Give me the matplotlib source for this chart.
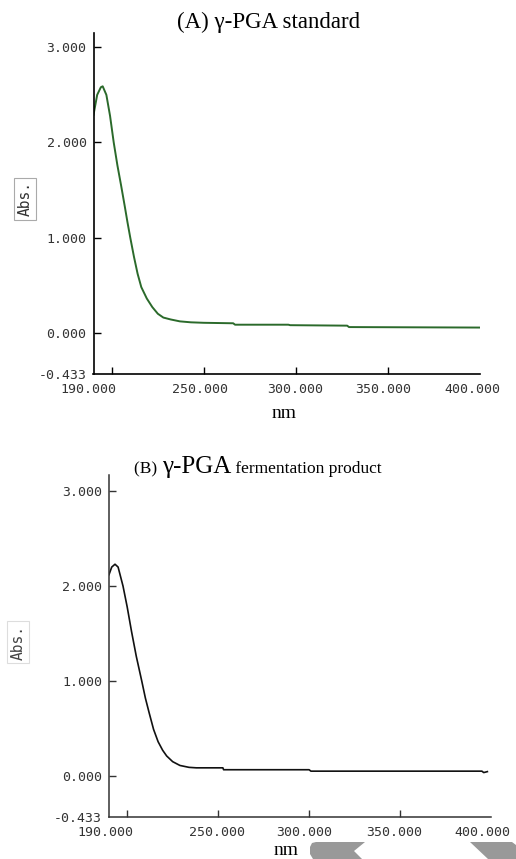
import matplotlib
matplotlib.use("Agg")
import matplotlib.pyplot as plt
from matplotlib.patches import Polygon
from matplotlib.transforms import ScaledTranslation

# ---------------- data ----------------
nm_a = [190, 192, 194, 195, 197, 199, 201, 203, 205, 207, 208.5, 210, 212, 214, 216,
        219, 222, 225, 228, 232, 237, 243, 250, 266, 267, 296, 297, 328, 329, 400]
abs_a = [2.29, 2.50, 2.58, 2.59, 2.50, 2.28, 2.00, 1.76, 1.55, 1.33, 1.16, 1.00, 0.80,
         0.62, 0.48, 0.36, 0.27, 0.20, 0.16, 0.14, 0.12, 0.11, 0.105, 0.10, 0.085,
         0.085, 0.08, 0.075, 0.06, 0.055]

nm_b = [190, 191.5, 193.3, 195, 197.7, 200, 202.4, 205, 208, 210, 212, 214.5,
        217, 219.5, 221.7, 225, 229, 234, 238, 252.6, 253, 300, 301, 395, 396, 398]
abs_b = [2.12, 2.20, 2.23, 2.20, 2.00, 1.78, 1.52, 1.26, 1.00, 0.82, 0.67, 0.49,
         0.36, 0.27, 0.21, 0.15, 0.11, 0.09, 0.085, 0.085, 0.065, 0.065, 0.05,
         0.05, 0.035, 0.045]

ytick_vals = [-0.433, 0.0, 1.0, 2.0, 3.0]
ytick_labels = ["-0.433", "0.000", "1.000", "2.000", "3.000"]
xtick_vals = [190, 200, 250, 300, 350, 400]
xtick_labels = ["190.000", "", "250.000", "300.000", "350.000", "400.000"]

title_a = "(A) γ-PGA standard"
title_b_parts = ["(B) ", "γ-PGA", " fermentation product"]
xlabel = "nm"
ylabel = "Abs."

# ---------------- figure ----------------
W, H = 516, 859
fig = plt.figure(figsize=(W / 100, H / 100), dpi=100)
fig.patch.set_facecolor("white")

mono = ["DejaVu Sans Mono"]
serif = ["Liberation Serif", "DejaVu Serif"]


def fx(x):
    return x / W


def fy(y):
    return 1 - y / H


def make_axes(left, right, top, bottom, ytop, color, lw_spine, shifts):
    ax = fig.add_axes([fx(left), fy(bottom), fx(right) - fx(left), fy(top) - fy(bottom)])
    ax.set_xlim(190, 400)
    ax.set_ylim(-0.433, ytop)
    for s in ["top", "right"]:
        ax.spines[s].set_visible(False)
    for s in ["left", "bottom"]:
        ax.spines[s].set_color(color)
        ax.spines[s].set_linewidth(lw_spine)
    ax.set_yticks(ytick_vals)
    ax.set_yticklabels(ytick_labels, fontfamily=mono, fontsize=9.5, color="#333333")
    ax.set_xticks(xtick_vals)
    ax.set_xticklabels(xtick_labels, fontfamily=mono, fontsize=9.5, color="#333333")
    ax.tick_params(axis="y", direction="in", length=5, width=1.0, color=color, pad=5)
    ax.tick_params(axis="x", direction="in", length=5, width=1.0, color=color, pad=6.5)
    for i, t in enumerate(ax.xaxis.get_major_ticks()):
        if xtick_vals[i] in (190, 400):
            t.tick1line.set_visible(False)
    ax.yaxis.get_major_ticks()[0].tick1line.set_visible(False)
    for lab, dx in zip(ax.get_xticklabels(), shifts):
        lab.set_transform(lab.get_transform() + ScaledTranslation(dx / 100, 0, fig.dpi_scale_trans))
    ax.patch.set_alpha(0)
    return ax


# Panel A
axA = make_axes(93.5, 479.5, 33, 374, 3.15, "black", 1.2, [-5, 0, -4, -1, -4, -7])
axA.plot(nm_a, abs_a, color="#2b6a2b", lw=1.4, solid_joinstyle="round")

# Panel B
axB = make_axes(109, 491, 475, 817, 3.17, "#333333", 1.1, [-4, 0, -1, -5, -6, -9])
axB.plot(nm_b, abs_b, color="#111111", lw=1.2, solid_joinstyle="round")

# y labels in boxes
fig.text(fx(25), fy(199), ylabel, rotation=90, ha="center", va="center",
         fontfamily=mono, fontsize=10.5, color="#333333",
         bbox=dict(boxstyle="square,pad=0.25", fc="white", ec="#aaaaaa", lw=0.8))
fig.text(fx(18), fy(642), ylabel, rotation=90, ha="center", va="center",
         fontfamily=mono, fontsize=10.5, color="#444444",
         bbox=dict(boxstyle="square,pad=0.25", fc="white", ec="#dddddd", lw=0.8))

# x labels
fig.text(fx(284), fy(418), xlabel, ha="center", va="baseline",
         fontfamily=serif, fontsize=14, color="black")
fig.text(fx(286), fy(855), xlabel, ha="center", va="baseline",
         fontfamily=serif, fontsize=14, color="black")

# Title A
fig.text(fx(269), fy(28), title_a, ha="center", va="baseline",
         fontfamily=serif, fontsize=16.5, color="black")

# Title B with mixed sizes
fig.canvas.draw()
renderer = fig.canvas.get_renderer()
sizes = [12.5, 18, 12.5]
pieces = []
for txt, sz in zip(title_b_parts, sizes):
    t = fig.text(0, fy(473), txt, ha="left", va="baseline",
                 fontfamily=serif, fontsize=sz, color="black")
    pieces.append(t)
widths = [p.get_window_extent(renderer).width for p in pieces]
total = sum(widths)
x0 = 258 - total / 2
for p, w in zip(pieces, widths):
    p.set_x(fx(x0))
    x0 += w

# gray page artifacts at bottom
shape1 = [(316, 842), (365, 842), (354, 851), (362, 859), (313, 859), (310, 854),
          (310, 847), (312, 843)]
shape2 = [(470, 842), (512, 842), (516, 845), (516, 859), (488, 859)]
for shp in (shape1, shape2):
    fig.patches.append(Polygon([(fx(x), fy(y)) for x, y in shp], closed=True,
                               transform=fig.transFigure, fc="#999999", ec="none"))

fig.savefig("out.png", dpi=100, facecolor="white")
